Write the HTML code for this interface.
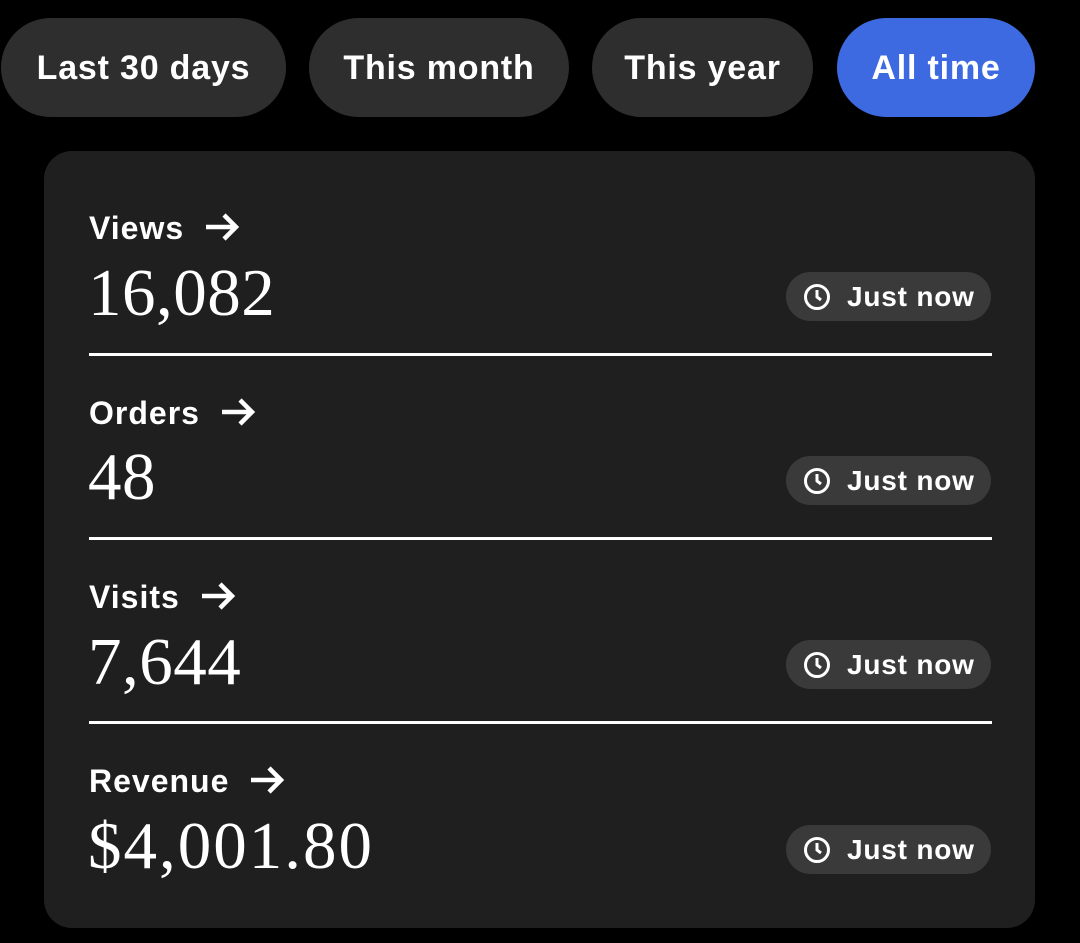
<!DOCTYPE html>
<html><head><style>
body{margin:0;width:1080px;height:943px;background:#000;font-family:"Liberation Sans",sans-serif;color:#fff;position:relative;overflow:hidden}
.pill{position:absolute;top:18px;height:99px;border-radius:50px;background:#2e2e2e;font-size:34px;font-weight:bold;line-height:101px;text-align:center;letter-spacing:0.8px}
.card{position:absolute;left:44px;top:151px;width:991px;height:777px;background:#1f1f1f;border-radius:28px}
.lab{position:absolute;left:89px;font-size:32px;font-weight:bold;letter-spacing:1px;white-space:nowrap}
.lab svg{vertical-align:-3px;margin-left:20px}
.val{position:absolute;left:88px;font-family:"Liberation Serif",serif;font-size:67px;line-height:66px;letter-spacing:0.5px}
.line{position:absolute;left:89px;width:903px;height:3px;background:#fff}
.badge{position:absolute;left:786px;width:205px;height:49px;border-radius:25px;background:#3a3a3a;font-size:28px;font-weight:bold;line-height:50px;letter-spacing:0.8px}
.badge svg{position:absolute;left:17px;top:11px}
.badge span{position:absolute;left:61px}
</style></head><body>
<div class="pill" style="left:1px;width:285px">Last 30 days</div>
<div class="pill" style="left:309px;width:260px">This month</div>
<div class="pill" style="left:592px;width:221px">This year</div>
<div class="pill" style="left:837px;width:198px;background:#3e6ae1">All time</div>
<div class="card"></div>

<div class="lab" style="top:210px">Views<svg width="36" height="30" viewBox="0 0 36 30"><path d="M2 15h30M20 3l12 12-12 12" fill="none" stroke="#fff" stroke-width="4.5"/></svg></div>
<div class="val" style="top:260px">16,082</div>
<div class="badge" style="top:272px"><svg width="28" height="28" viewBox="0 0 28 28"><circle cx="14" cy="14" r="11.5" fill="none" stroke="#fff" stroke-width="3"/><path d="M14 7v7l4 3" fill="none" stroke="#fff" stroke-width="3"/></svg><span>Just now</span></div>
<div class="line" style="top:353px"></div>

<div class="lab" style="top:395px">Orders<svg width="36" height="30" viewBox="0 0 36 30"><path d="M2 15h30M20 3l12 12-12 12" fill="none" stroke="#fff" stroke-width="4.5"/></svg></div>
<div class="val" style="top:444px">48</div>
<div class="badge" style="top:456px"><svg width="28" height="28" viewBox="0 0 28 28"><circle cx="14" cy="14" r="11.5" fill="none" stroke="#fff" stroke-width="3"/><path d="M14 7v7l4 3" fill="none" stroke="#fff" stroke-width="3"/></svg><span>Just now</span></div>
<div class="line" style="top:537px"></div>

<div class="lab" style="top:579px">Visits<svg width="36" height="30" viewBox="0 0 36 30"><path d="M2 15h30M20 3l12 12-12 12" fill="none" stroke="#fff" stroke-width="4.5"/></svg></div>
<div class="val" style="top:629px">7,644</div>
<div class="badge" style="top:640px"><svg width="28" height="28" viewBox="0 0 28 28"><circle cx="14" cy="14" r="11.5" fill="none" stroke="#fff" stroke-width="3"/><path d="M14 7v7l4 3" fill="none" stroke="#fff" stroke-width="3"/></svg><span>Just now</span></div>
<div class="line" style="top:721px"></div>

<div class="lab" style="top:763px">Revenue<svg width="36" height="30" viewBox="0 0 36 30"><path d="M2 15h30M20 3l12 12-12 12" fill="none" stroke="#fff" stroke-width="4.5"/></svg></div>
<div class="val" style="top:813px;letter-spacing:2px">$4,001.80</div>
<div class="badge" style="top:825px"><svg width="28" height="28" viewBox="0 0 28 28"><circle cx="14" cy="14" r="11.5" fill="none" stroke="#fff" stroke-width="3"/><path d="M14 7v7l4 3" fill="none" stroke="#fff" stroke-width="3"/></svg><span>Just now</span></div>
</body></html>
